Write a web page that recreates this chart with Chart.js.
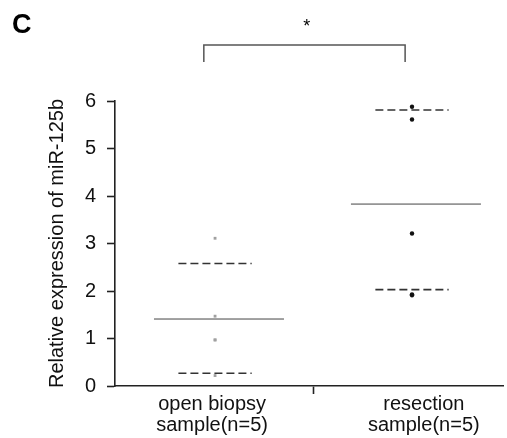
<!DOCTYPE html>
<html>
<head>
<meta charset="utf-8">
<script src="https://cdn.jsdelivr.net/npm/chart.js@4"></script>
<style>
  html, body { margin: 0; padding: 0; background: #fff; }
  #wrap { width: 507px; height: 438px; position: relative; }
</style>
</head>
<body>
<div id="wrap"><canvas id="c"></canvas></div>
<script>
// กลุ่มตัวอย่าง
const groups = [["open biopsy", "sample(n=5)"], ["resection", "sample(n=5)"]];
const groupX = [1, 2];

// ค่าแต่ละจุด
const openBiopsy = [3.11, 1.47, 0.97, 0.97, 0.22];
const resection = [5.88, 5.61, 3.21, 1.93, 1.91];

// ค่าเฉลี่ย และเส้นบน/ล่าง (อ่านจากภาพ)
const means = [1.41, 3.83];
const upper = [2.58, 5.81];
const lower = [0.27, 2.03];

const yTicks = [0, 1, 2, 3, 4, 5, 6];

const FONT = "'Liberation Sans', Arial, sans-serif";

function pts(values, x) {
  return values.map((v) => ({ x: x, y: v }));
}

function hline(x, y, half) {
  return [{ x: x - half, y: y }, { x: x + half, y: y }];
}

const datasets = [];
groupX.forEach((x, i) => {
  datasets.push({
    data: hline(x + 0.02, means[i], 0.33),
    showLine: true,
    borderColor: "#444",
    borderWidth: 1,
    pointRadius: 0,
  });
  [upper[i], lower[i]].forEach((v) => {
    datasets.push({
      data: hline(x, v, 0.186),
      showLine: true,
      borderColor: "#333",
      borderWidth: 1.6,
      borderDash: [8, 4],
      pointRadius: 0,
    });
  });
});
datasets.push({
  data: pts(openBiopsy, groupX[0]),
  pointStyle: "rect",
  pointRadius: 2,
  backgroundColor: "#a0a0a0",
  borderColor: "#a0a0a0",
  borderWidth: 0,
});
datasets.push({
  data: pts(resection, groupX[1]),
  pointStyle: "circle",
  pointRadius: 2.2,
  backgroundColor: "#111",
  borderColor: "#111",
  borderWidth: 0,
});

// ตำแหน่งป้ายแกน x และขีดตรงกลาง
const labelAt = [0.985, 2.06];
const midTick = 1.5;

// วาด C, วงเล็บ และดอกจัน
const extras = {
  id: "extras",
  afterDraw(chart) {
    const ctx = chart.ctx;
    const xs = chart.scales.x;
    const ys = chart.scales.y;
    ctx.save();
    ctx.fillStyle = "#000";
    ctx.font = "bold 27px " + FONT;
    ctx.textBaseline = "alphabetic";
    ctx.textAlign = "left";
    ctx.fillText("C", 12, 32.5);

    const x1 = xs.getPixelForValue(0.943);
    const x2 = xs.getPixelForValue(1.965);
    const yTop = ys.getPixelForValue(7.18);
    const yBot = ys.getPixelForValue(6.82);
    ctx.strokeStyle = "#555";
    ctx.lineWidth = 1.5;
    ctx.beginPath();
    ctx.moveTo(x1, yBot);
    ctx.lineTo(x1, yTop);
    ctx.lineTo(x2, yTop);
    ctx.lineTo(x2, yBot);
    ctx.stroke();

    ctx.font = "18px " + FONT;
    ctx.textBaseline = "middle";
    ctx.textAlign = "center";
    ctx.fillText("*", xs.getPixelForValue(1.466), ys.getPixelForValue(7.55));
    ctx.restore();
  },
};

new Chart(document.getElementById("c"), {
  type: "scatter",
  data: { datasets: datasets },
  options: {
    responsive: true,
    maintainAspectRatio: false,
    animation: false,
    layout: { padding: { top: 101, right: 0, left: 0, bottom: 0 } },
    plugins: { legend: { display: false }, tooltip: { enabled: false } },
    scales: {
      x: {
        type: "linear",
        min: 0.492,
        max: 2.462,
        afterBuildTicks: (s) => {
          s.ticks = [{ value: labelAt[0] }, { value: midTick }, { value: labelAt[1] }];
        },
        afterFit: (s) => { s.height = 52; },
        border: { display: true, color: "#222", width: 1.6 },
        grid: {
          drawOnChartArea: false,
          tickLength: 8,
          tickWidth: 1.6,
          color: (c) => (c.tick && c.tick.value === midTick ? "#222" : "rgba(0,0,0,0)"),
        },
        ticks: {
          autoSkip: false,
          maxRotation: 0,
          padding: 0,
          color: "#111",
          font: { family: FONT, size: 20, lineHeight: 1.05 },
          callback: (v) => {
            const i = labelAt.indexOf(v);
            return i >= 0 ? groups[i] : "";
          },
        },
      },
      y: {
        min: 0,
        max: 6,
        afterBuildTicks: (s) => { s.ticks = yTicks.map((v) => ({ value: v })); },
        afterFit: (s) => { s.width = 115; },
        border: { display: true, color: "#222", width: 1.6 },
        grid: { drawOnChartArea: false, tickLength: 8, tickWidth: 1.6, color: "#222" },
        ticks: {
          padding: 11,
          color: "#111",
          font: { family: FONT, size: 20 },
        },
        title: {
          display: true,
          text: "Relative expression of miR-125b",
          color: "#111",
          font: { family: FONT, size: 20 },
          padding: { top: 45, bottom: 0 },
        },
      },
    },
  },
  plugins: [extras],
});
</script>
</body>
</html>
